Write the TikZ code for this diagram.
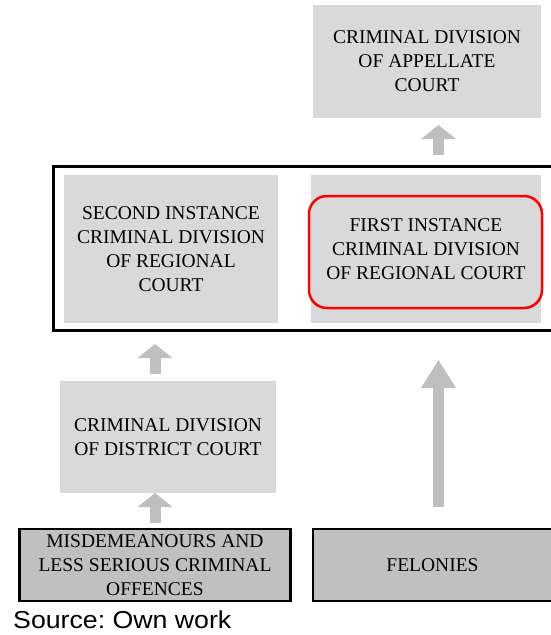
\documentclass[tikz,border=0pt]{standalone}
\usepackage{fontspec}
\setmainfont{Liberation Serif}
\newfontfamily\boxfont{Liberation Serif}
\newfontfamily\srcfont{Liberation Sans}
\usetikzlibrary{arrows.meta,calc}
\definecolor{lightbox}{HTML}{D9D9D9}
\definecolor{darkbox}{HTML}{C0C0C0}
\definecolor{arrowgray}{HTML}{BFBFBF}
\definecolor{redline}{HTML}{FF0000}
\tikzset{
  courtbox/.style={fill=lightbox, draw=none, outer sep=0pt, inner sep=0pt, align=center,
    font=\boxfont\fontsize{19.5}{24}\selectfont},
  crimebox/.style={fill=darkbox, draw=black, line width=2.3pt, outer sep=0pt, inner sep=0pt, align=center,
    font=\boxfont\fontsize{19.5}{24}\selectfont},
  blockarrow/.style={draw=arrowgray, line width=11pt,
    -{Triangle[width=35pt,length=#1,line width=0pt,fill=arrowgray]}},
  blockarrow/.default=14pt
}
\begin{document}
\begin{tikzpicture}[x=1pt,y=-1pt]
\useasboundingbox (0,0) rectangle (551,635);
\clip (0,0) rectangle (551,635);
% boxes
\node[courtbox, minimum width=228pt, minimum height=113pt] (appellate) at (427,61.5)
  {\raisebox{-2pt}{\parbox{200pt}{\centering CRIMINAL DIVISION\\OF APPELLATE\\COURT}}};
\node[draw=black, line width=3pt, outer sep=0pt, inner sep=0pt, anchor=north west,
  minimum width=515pt, minimum height=164pt] (panel) at (53,166.5) {};
\node[courtbox, minimum width=214pt, minimum height=148pt] (second) at (171,249)
  {SECOND INSTANCE\\CRIMINAL DIVISION\\OF REGIONAL\\COURT};
\node[courtbox, minimum width=230pt, minimum height=148pt] (first) at (426,249)
  {FIRST INSTANCE\\CRIMINAL DIVISION\\OF REGIONAL COURT};
\node[draw=redline, line width=2.5pt, rounded corners=18pt, outer sep=0pt,
  minimum width=233pt, minimum height=112pt] (highlight) at (425.5,252) {};
\node[courtbox, minimum width=216pt, minimum height=112pt] (district) at (168,437)
  {CRIMINAL DIVISION\\OF DISTRICT COURT};
\node[crimebox, minimum width=271pt, minimum height=71.5pt] (misdem) at (155,565)
  {MISDEMEANOURS AND\\LESS SERIOUS CRIMINAL\\OFFENCES};
\node[crimebox, anchor=west, minimum width=260pt, minimum height=71.5pt] (felbox) at (313,565) {};
\node[inner sep=0pt, font=\boxfont\fontsize{19.5}{24}\selectfont] (felonies) at (432.5,565) {FELONIES};
\node[anchor=base west, inner sep=0pt, font=\srcfont\fontsize{24.5}{28}\selectfont] (source) at (13,628)
  {\scalebox{1.09}[1]{Source:\ Own work}};
% arrow axes
\coordinate (axL) at (155,0);
\coordinate (axR) at (438.5,0);
% arrows
\draw[blockarrow] ($(misdem.north -| axL)+(0,-6)$) -- ($(district.south -| axL)+(0,0)$);
\draw[blockarrow] ($(district.north -| axL)+(0,-7)$) -- ($(panel.south -| axL)+(0,13.5)$);
\draw[blockarrow=28pt] ($(felbox.north -| axR)+(0,-22)$) -- ($(panel.south -| axR)+(0,29.5)$);
\draw[blockarrow] ($(panel.north -| axR)+(0,-11.5)$) -- ($(appellate.south -| axR)+(0,7)$);
\end{tikzpicture}
\end{document}
